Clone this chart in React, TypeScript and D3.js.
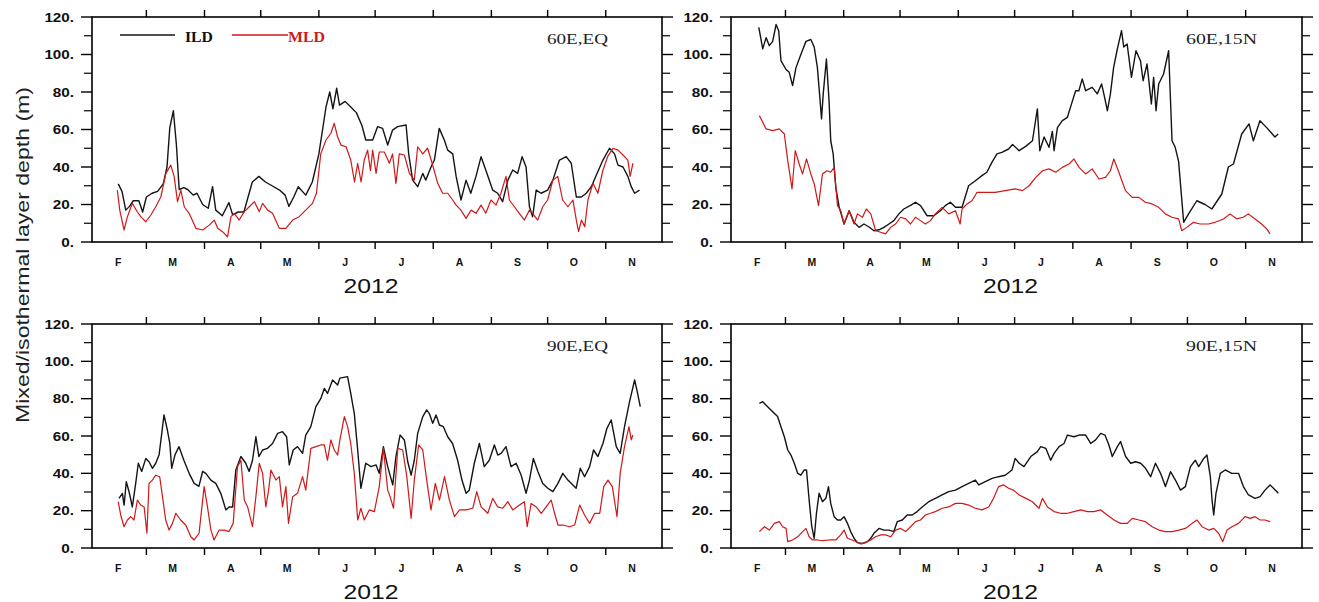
import React from "react";
import * as d3 from "d3";

// ---------- data (x = days since 1 Feb 2012, y = depth in m) ----------
const MONTH_LABELS = ["F", "M", "A", "M", "J", "J", "A", "S", "O", "N"];
const Y_TICKS = [0, 20, 40, 60, 80, 100, 120];
const Y_MINOR = [10, 30, 50, 70, 90, 110];
const YEAR_LABEL = "2012";
const Y_TITLE = "Mixed/isothermal layer depth (m)";
const SERIES_NAMES = ["ILD", "MLD"];
const PANEL_TITLES = ["60E,EQ", "60E,15N", "90E,EQ", "90E,15N"];

const ild60EQ = [[14,31],[16,27],[18,17],[20,19],[22,22],[25,22],[27,16],[29,24],[32,26],[35,27],[38,31],[40,40],[41.5,61],[43.4,70],[45,52],[46.5,28],[49,29],[51,28],[54,25],[56,26],[59,20],[62,18],[64.3,29.5],[66,17],[69.5,14],[73,21],[75,14.5],[78,16],[81,16],[85.5,32],[89,35],[92.5,32],[96,30],[100,27.7],[103,25],[105,19],[107.6,24],[110,29.5],[114,25],[117.5,32],[121,47],[124.8,72],[126.8,80],[128.5,71],[130.5,82],[132,73],[135,75],[138,72],[141,69],[144,62],[146,54.4],[149.7,54.4],[152.3,61.5],[155,60.6],[157.7,51.7],[160.3,59.7],[163,61.5],[167.5,62.4],[168.9,47],[171,33],[173.7,29.5],[176.4,36.6],[178,33],[180.8,40],[182.6,43.7],[185.2,60.6],[187.9,54.4],[189.7,49],[192.4,47],[194.2,35],[196.8,22.4],[199.5,33],[202,26],[204.8,35],[207.5,45.5],[210,38.4],[213.7,27.7],[216.4,26],[219,21.5],[221.8,33],[224.4,38.4],[227,36.6],[229.4,45.5],[231.5,40],[233.3,18.8],[235,13.5],[236.9,27.7],[239.5,26],[243,27.7],[245.8,33],[249.3,43.7],[252.9,45.5],[255.6,42],[258.3,24],[261,24],[263.6,26],[266.3,29.5],[269,35.7],[272.5,43.7],[276,50],[278.7,47],[280.5,41],[283.2,40],[285.8,35],[287.6,29.5],[289.4,26],[292,27.7]];
const mld60EQ = [[13.5,27.7],[14.8,17],[17.1,6.4],[18.9,13.5],[21.5,20.6],[24.2,16],[26,13.5],[28.7,10.8],[31.4,14.4],[34,18.8],[36.7,24],[39.4,36.6],[42,41],[43.8,35],[45.6,21.5],[47.4,27.7],[49.2,18.8],[51.8,15.3],[55.4,7.3],[59,6.4],[62.5,9],[65.2,11.7],[67,7.3],[69.6,5.5],[72.3,2.8],[74.1,13.5],[75.9,15.3],[78.5,11.7],[81.2,16.2],[83.9,18.8],[86.6,21.5],[89.2,16.2],[91,20.6],[93.7,17],[96.3,15.3],[99.9,7.3],[103.4,7.3],[107,11.7],[110.5,13.5],[114,17],[117.6,20.6],[119.7,26],[122,47],[124.8,54.4],[127.4,58],[129.2,63.3],[131,56],[132.8,51.7],[135.5,50.8],[138,43.7],[140,32],[141.7,42],[143.5,32],[145.2,43.7],[147,49],[148.5,38],[149.7,49],[151.5,36.6],[153.2,48],[155.9,48],[158.6,42],[160.3,47],[162.1,31.3],[163.9,47],[166.6,46.4],[169.3,36.6],[171.9,33],[173.7,50.8],[176.4,47],[179,50],[181.4,42],[184.4,31.3],[187,26],[189.7,26],[192.4,22.4],[194.2,19.7],[196.8,17],[199.5,12.6],[202.2,17],[204.8,15.3],[207.5,19.7],[210,15.3],[212.8,22.4],[215.5,19.7],[218.1,26],[220.8,35],[222.6,22.4],[225.3,18.8],[227.9,15.3],[230.6,11.7],[233.3,17],[235,15.3],[237.7,11.7],[240.4,18.8],[243,22.4],[245.8,33],[248.4,35],[251,22.4],[253.8,18.8],[256.5,22.4],[258.3,11.7],[259.5,5.5],[261,11.7],[262.8,8.2],[264.5,22.4],[267.2,31.3],[269.8,26],[272.5,38.4],[275,45.5],[277.8,50],[280.5,49],[283.2,46.4],[285.8,43.7],[287,35],[288.5,42]];

const ild60N15 = [[14.8,114.5],[16.9,103],[18.7,109],[20.4,104.7],[22.2,107],[24,116],[25.4,112.7],[26.6,96.7],[29.3,92],[31,90.5],[32.8,83.4],[34.6,93],[37.2,100],[39.9,107],[42.5,108],[44.3,104],[46,93],[47.3,77],[48.2,65.6],[49.1,79],[50.8,97.6],[52.2,75.4],[53.1,54],[54.4,47],[55.8,29],[57.6,18.5],[60.2,9.6],[62.9,16.7],[65.5,10.5],[68.2,7.8],[70.8,9.6],[73.5,8],[76.1,6],[78.8,6.5],[81.4,7.8],[84.1,9.6],[86.7,11.4],[89.4,15],[92,17.6],[95.6,19.5],[98.2,21.2],[100.9,19.4],[104.4,14],[108,14],[111.5,16.7],[114.1,19.4],[116.8,21.2],[119.5,18.5],[123,18.5],[126.5,30],[130.1,32.7],[133.6,35.4],[136.2,37.2],[138.9,42.5],[141.6,47],[144.2,47.8],[147.8,49.6],[149.9,52],[153.4,48.7],[156.9,51],[160.5,54],[163.1,71],[164.4,48.7],[166.7,56],[169.3,50.5],[171.1,59],[172,48.7],[173.8,61],[176.4,64.7],[179.1,66.5],[181.7,75],[183.5,80.7],[185.2,80.7],[187,87],[188.8,80.7],[192.3,82.5],[195,79],[197.3,84.3],[198.5,79],[200.4,70],[202,79],[203.7,93],[205.5,102],[207.9,112.7],[209.1,104],[210.9,105.6],[213.2,87.8],[215.6,102],[218,96.7],[219.4,86],[221.5,95],[223.8,73.6],[225,87.8],[226.3,70],[227.7,84.3],[230.3,89.6],[233,102],[234.8,54],[236.5,50.5],[238.3,43],[241,10.5],[243.6,15],[248,22],[252.4,20],[256,17.6],[261.3,25.6],[264.8,40],[267.5,41.6],[271.9,57.6],[275.8,63],[278.1,54],[281.6,64.7],[285.2,61],[289.6,56],[291.3,57.6]];
const mld60N15 = [[15.1,67.4],[18.7,60.3],[22.2,59.4],[25.7,60.3],[28.4,57.6],[30.2,43.4],[32.5,28.3],[34.2,48.7],[36.3,41.6],[38.1,36.3],[40.2,44.3],[42.5,36.3],[44.3,31],[46.6,19.4],[48.7,36.3],[51,38],[53.1,37.2],[54.9,39.8],[56.7,19.4],[58.4,16.7],[60.2,9.6],[62.9,16.7],[65.5,9.6],[67.3,15],[70,13.2],[72,17.6],[74.4,15],[77,6],[79.7,5.2],[82.3,4.3],[85,7.8],[87.6,9.6],[90.3,13.2],[93,12.3],[95.6,9.6],[98.2,13.2],[100.9,11.4],[103.5,9.6],[106.2,11.4],[108.8,15],[112.4,18.5],[115.9,15],[119.5,16.7],[122,9.6],[123,17.6],[125.7,20.3],[128.3,22],[131,26.5],[135.4,26.5],[140.7,26.5],[146,27.4],[151.3,28.3],[155.2,27.4],[158.7,30],[162.3,34.5],[165.8,38],[169.3,39],[172.9,37.2],[176.4,39.8],[180,41.6],[182.6,44.3],[185.3,39.8],[188.8,36.3],[192.3,39],[195.9,33.6],[199.4,34.5],[202,38],[203.8,44.3],[206.5,37.2],[210,27.4],[213.6,23.8],[217.1,23.8],[220.6,21.2],[224.2,20.3],[227.7,18.5],[231.2,15],[234.8,13.2],[238.3,12.3],[240,6],[242.7,7.8],[246.2,10.5],[249.8,9.6],[254.2,9.6],[257.7,10.5],[262.2,12.3],[265.7,15],[269.3,12.3],[272.8,13.2],[275.4,15],[279,12.3],[282.5,9.6],[285.2,7],[287,4.3]];

const ild90EQ = [[14.4,26.6],[16.2,29.3],[17.1,23],[18.3,35.5],[19.8,30],[21.5,22],[23.3,34.6],[24.7,45.4],[26.5,41],[28.7,48],[30.4,46.2],[32.2,42.7],[34,45.4],[35.8,50],[37.2,61.4],[38.4,71.3],[40.2,63.2],[41.5,56],[42.5,42.7],[44.3,50],[46.4,54.3],[49,47],[51.8,40],[54.5,34.6],[57,33],[59,41],[60.7,40],[63.4,36.4],[66,34.6],[68.7,29.3],[71.4,20.4],[73.1,22],[75,22],[76.7,41.8],[79.4,49],[82,45.4],[83.8,41],[85.6,47],[87.4,59.6],[89,49],[91,52.5],[93.6,53.4],[96.3,56],[99,61.4],[101.6,62.3],[103.8,59.6],[105.2,44.5],[107.3,52.5],[109.6,54.3],[112.3,50.7],[114,60.5],[116.7,65],[119.4,75.7],[122,80],[123.9,85.5],[125.6,82.8],[128.3,90],[131,87.3],[132.2,91],[136.3,91.8],[138,82.8],[139.9,72],[141.7,52.5],[143.4,32],[146,45.4],[148.8,43.6],[151.5,44.5],[153.2,40],[155.4,54.3],[157.7,43.6],[160.4,33.8],[162.1,49],[164.3,60.5],[166.6,57.9],[168.4,46.2],[170.2,39],[171.9,47],[173.7,61.4],[176.4,70.4],[178.5,74],[179.9,72],[181.7,66.8],[183.5,71.3],[185.3,65.9],[187.4,65],[189.7,59.6],[192.3,56],[195,47],[197.3,36.4],[199.5,29.3],[201.2,31],[203.9,45.4],[206.6,56],[209.2,43.6],[211.9,47],[214.6,55.2],[216.4,49.8],[218.2,50.7],[220.8,54.3],[223.5,43.6],[226.2,45.4],[228.9,39],[231.5,29.3],[233.3,36.4],[235.4,48],[237.8,41],[240.4,34.6],[243.1,32],[245.8,30.2],[248.5,34.6],[251.1,40],[253.8,36.4],[256.5,33.8],[258.2,32],[260.4,42.7],[262.7,38.2],[265.4,43.6],[267.5,52.5],[269.8,49],[272.5,56],[274.6,64],[276.9,68.6],[279.6,54.3],[281.7,50.7],[284,65],[286.7,78.4],[289.4,90],[290.8,83.8],[292.4,75.7]];
const mld90EQ = [[14,24.8],[15.3,17.7],[17.1,11.4],[18.9,15],[20.6,16.8],[22.4,15],[24.2,25.7],[26,23],[27.8,22],[29.3,8],[30.4,34.6],[32.2,36.4],[34,39],[36.1,38.2],[37.6,27.5],[39.3,15],[41.1,9.6],[42.9,13.2],[44.7,18.6],[47.3,15],[50,12.3],[52.7,6],[54.5,4.3],[57.1,7.9],[59.8,32.9],[61.6,22],[63.4,9.6],[65.1,4.3],[67.8,9.6],[70.5,9.6],[73.1,8.8],[75.3,13.2],[77.6,43.6],[79.4,47],[81.2,25.7],[83,22],[85.6,11.4],[87.4,27.5],[89.2,45.4],[91,40],[92.7,22],[94.2,31],[95.4,41.8],[98.1,36.4],[99.9,38.2],[101.6,22],[103.4,32.9],[104.8,13.2],[107,27.5],[109.6,29.3],[112.3,38.2],[114,31],[116.7,53.4],[119.4,54.3],[122,55.2],[123.9,55.2],[125.6,47],[127.4,57.9],[129.2,52.5],[131,49.8],[132.2,57.9],[134.6,70.4],[136.3,65],[138,56],[139.9,40],[141.7,15],[143.4,21.3],[145.2,15],[147.9,20.4],[150.6,19.5],[153.2,32.9],[155.4,53.4],[157.7,31],[159,27.5],[160.8,21.3],[163.1,53.4],[165.7,52.5],[167.9,38.2],[170.2,15.9],[171.9,36.4],[174.2,55.2],[176.4,52.5],[178.5,36.4],[180.8,20.4],[183.1,34.6],[185.3,25.7],[188,38.2],[190.6,25.7],[193.3,16.8],[196,20.4],[199.5,20.4],[203.1,21.3],[205.2,30.2],[207.5,22],[211.1,18.6],[213.7,26.6],[216.4,22],[219.1,21.3],[221.8,24.8],[224.4,20.4],[228,23],[230.6,24.8],[232.1,11.4],[234.2,23.9],[236.9,22],[239.6,18.6],[242.2,22],[244.9,25.7],[246.7,18.6],[248.5,12.3],[251.1,12.3],[254.7,11.4],[257.4,12.3],[260.1,23],[262.7,17.7],[265.4,13.2],[268.1,18.6],[270.8,18.6],[272.9,32.9],[275.2,36.4],[277.5,32.9],[280,16.8],[281.7,40],[284,54.3],[286.4,65],[287.6,57.9],[288.5,60.5]];

const ild90N15 = [[15.1,77.5],[16.9,78.4],[19.5,75.7],[22.2,73],[24.8,70.4],[26.6,65],[28.4,59.6],[30.2,52.5],[31.9,49.8],[33.7,45.4],[35.5,40],[37.2,39],[39,41.8],[40.2,41.8],[41.6,25.7],[43,11.4],[44.3,5.2],[45.5,18.6],[46.9,29.3],[48.7,24.8],[50.5,26.6],[51.9,32.9],[53.1,23.9],[54.9,16.8],[56.7,15],[58.4,15],[60.2,16.8],[62,13.2],[63.7,8.8],[65.5,5.2],[67.3,2.9],[70,2.5],[72.6,3.4],[74.4,5.2],[76.1,7.9],[78.8,10.5],[81.4,9.6],[84.1,9.6],[86.7,8.8],[88.5,14.1],[91.2,15],[93.8,17.7],[96.5,17.7],[99.1,19.5],[101.8,22],[105.3,24.8],[108.8,26.6],[112.4,28.4],[115.9,30.2],[119.5,31],[123,32.9],[126.5,34.6],[130.1,36.4],[131.9,33.8],[135.4,35.5],[139,37.3],[142.5,38.2],[146,39],[149.6,41.8],[151.3,48],[153.4,45.4],[156,43.6],[159.6,49],[163.1,51.6],[164.9,54.3],[167.6,53.4],[170.2,47],[172,50.7],[174.7,54.3],[177.3,56],[179.1,60.5],[182.6,59.6],[185.3,60.5],[188.8,60.5],[191.5,56],[194.1,57.9],[196.8,61.4],[199.1,60.5],[201.2,55.2],[203,49],[205.7,54.3],[207.4,57],[210.1,49],[212.8,45.4],[215.4,46.2],[218.1,45.4],[220.7,42.7],[223.4,38.2],[226,45.4],[228.7,40],[231.3,32.9],[234,40.9],[236.6,36.4],[239.3,31],[241.9,32.9],[244.6,43.6],[247.2,47],[249,43.6],[251.7,48],[253.4,49.8],[255.2,38.2],[256.1,25.7],[257,17.7],[258.2,29.3],[260.5,40],[263.1,41.8],[266.6,40],[270.2,40],[272.8,32.9],[275.5,28.4],[279,26.6],[281.7,27.5],[284.3,31],[287,33.8],[288.8,32],[291.4,29.3]];
const mld90N15 = [[15.1,8.8],[17.8,11.4],[20.4,9.6],[23.1,13.2],[25.7,14.1],[27.5,11.4],[29.3,10.5],[30.2,3.4],[32.8,4.3],[35.5,6],[38.1,8.8],[39.9,10.5],[41.6,6],[43.4,4.3],[46,4.3],[48.7,3.9],[52.3,4.3],[55.8,4.3],[58.4,7],[60.2,9.6],[62,5.2],[65.5,3.9],[69.1,2.1],[71.7,2.9],[74.4,4.3],[77,6],[79.7,7],[82.3,7],[85,6],[87.6,9.6],[90.3,10.5],[93,8.8],[95.6,11.4],[98.2,14.1],[100.9,15],[103.5,17.7],[106.2,18.6],[108.8,19.5],[112.4,21.3],[115.9,22],[119.5,23.9],[123,23.9],[126.5,23],[130.1,21.3],[133.6,20.4],[137.2,22],[139.8,26.6],[142.5,32.9],[145.1,33.8],[147.8,32],[150.4,31],[153.4,28.4],[157,26.6],[160.5,24.8],[164,21.3],[165.8,26.6],[168.5,22],[172,19.5],[175.5,18.6],[179.1,18.6],[182.6,19.5],[186.2,20.4],[189.7,19.5],[193.2,19.5],[196.8,20.4],[200.3,17.7],[203.9,15],[207.4,13.2],[211,13.2],[213.6,15.9],[217.2,15],[220.7,14.1],[224.2,11.4],[227.8,9.6],[231.3,8.8],[234.9,8.8],[238.4,9.6],[241.9,10.5],[245.5,13.2],[248.1,15],[250.8,11.4],[254.3,9.6],[257,10.5],[259.6,7.9],[261.8,3.4],[264.1,9.6],[266.7,11.4],[270.2,13.2],[273.7,16.8],[276.4,15.9],[279,16.8],[281.7,15],[284.3,15],[287,14.1]];

// ---------- layout / style ----------
const W = 1319;
const H = 602;
const START = new Date(Date.UTC(2012, 1, 1));
const END = new Date(Date.UTC(2012, 11, 1));
const ILD_COLOR = "#141414";
const MLD_COLOR = "#d01818";

const PANELS = [
  { title: PANEL_TITLES[0], ild: ild60EQ, mld: mld60EQ, x0: 92, x1: 662, y0: 17, y1: 242, legend: true },
  { title: PANEL_TITLES[1], ild: ild60N15, mld: mld60N15, x0: 731, x1: 1302, y0: 17, y1: 242, legend: false },
  { title: PANEL_TITLES[2], ild: ild90EQ, mld: mld90EQ, x0: 92, x1: 662, y0: 324, y1: 548, legend: false },
  { title: PANEL_TITLES[3], ild: ild90N15, mld: mld90N15, x0: 731, x1: 1302, y0: 324, y1: 548, legend: false },
];

const dayToDate = (d: number) => new Date(START.getTime() + d * 864e5);

function Panel({ p }: { p: any }) {
  const x = d3.scaleUtc().domain([START, END]).range([p.x0, p.x1]);
  const y = d3.scaleLinear().domain([0, 120]).range([p.y1, p.y0]);
  const line = d3
    .line<number[]>()
    .x((d) => x(dayToDate(d[0])))
    .y((d) => y(d[1]));
  const months = d3.utcMonth.range(START, END);
  const inner = months.slice(1);
  const tickLabelLen = (s: string) => (s.length - 1) * 8.4 + 4.4;
  return (
    <g>
      {Y_TICKS.map((v) => (
        <g key={"yt" + v}>
          <line x1={p.x0 - 11} x2={p.x0} y1={y(v)} y2={y(v)} stroke="#000" strokeWidth={1.4} />
          <line x1={p.x1} x2={p.x1 + 11} y1={y(v)} y2={y(v)} stroke="#000" strokeWidth={1.4} />
          <text
            x={p.x0 - 18}
            y={y(v) + 4.5}
            textAnchor="end"
            fontFamily="'Liberation Sans', Arial, sans-serif"
            fontWeight="bold"
            fontSize={12}
            textLength={tickLabelLen(v + ".")}
            lengthAdjust="spacingAndGlyphs"
            fill="#111"
          >
            {v + "."}
          </text>
        </g>
      ))}
      {Y_MINOR.map((v) => (
        <g key={"ym" + v}>
          <line x1={p.x0 - 8} x2={p.x0} y1={y(v)} y2={y(v)} stroke="#000" strokeWidth={1.2} />
          <line x1={p.x1} x2={p.x1 + 8} y1={y(v)} y2={y(v)} stroke="#000" strokeWidth={1.2} />
        </g>
      ))}
      {inner.map((m, i) => (
        <g key={"xt" + i}>
          <line x1={x(m)} x2={x(m)} y1={p.y0 - 7} y2={p.y0} stroke="#000" strokeWidth={1.4} />
          <line x1={x(m)} x2={x(m)} y1={p.y1} y2={p.y1 + 7} stroke="#000" strokeWidth={1.4} />
        </g>
      ))}
      {months.map((m, i) => (
        <text
          key={"ml" + i}
          x={x(d3.utcDay.offset(m, 14))}
          y={p.y1 + 24}
          textAnchor="middle"
          fontFamily="'Liberation Sans', Arial, sans-serif"
          fontWeight="bold"
          fontSize={10.5}
          fill="#111"
        >
          {MONTH_LABELS[i]}
        </text>
      ))}
      <text
        x={(p.x0 + p.x1) / 2 - 6}
        y={p.y1 + 51}
        textAnchor="middle"
        fontFamily="'Liberation Sans', Arial, sans-serif"
        fontSize={21}
        textLength={55}
        lengthAdjust="spacingAndGlyphs"
        fill="#111"
      >
        {YEAR_LABEL}
      </text>
      <path d={line(p.ild) || ""} fill="none" stroke={ILD_COLOR} strokeWidth={1.4} strokeLinejoin="round" />
      <path d={line(p.mld) || ""} fill="none" stroke={MLD_COLOR} strokeWidth={1.2} strokeLinejoin="round" />
      <rect x={p.x0} y={p.y0} width={p.x1 - p.x0} height={p.y1 - p.y0} fill="none" stroke="#000" strokeWidth={1.6} />
      <text
        x={p.x0 + 455}
        y={p.y0 + 26.5}
        fontFamily="'Liberation Serif', 'Times New Roman', serif"
        fontSize={15}
        textLength={p.title.length === 6 ? 61 : 71}
        lengthAdjust="spacingAndGlyphs"
        fill="#222"
      >
        {p.title}
      </text>
      {p.legend && (
        <g>
          <line x1={p.x0 + 28} x2={p.x0 + 83} y1={p.y0 + 18} y2={p.y0 + 18} stroke={ILD_COLOR} strokeWidth={1.5} />
          <text
            x={p.x0 + 93}
            y={p.y0 + 24.5}
            fontFamily="'Liberation Serif', 'Times New Roman', serif"
            fontWeight="bold"
            fontSize={15}
            textLength={28}
            lengthAdjust="spacingAndGlyphs"
            fill="#111"
          >
            {SERIES_NAMES[0]}
          </text>
          <line x1={p.x0 + 140} x2={p.x0 + 196} y1={p.y0 + 18} y2={p.y0 + 18} stroke={MLD_COLOR} strokeWidth={1.5} />
          <text
            x={p.x0 + 196}
            y={p.y0 + 24.5}
            fontFamily="'Liberation Serif', 'Times New Roman', serif"
            fontWeight="bold"
            fontSize={15}
            textLength={37}
            lengthAdjust="spacingAndGlyphs"
            fill={MLD_COLOR}
          >
            {SERIES_NAMES[1]}
          </text>
        </g>
      )}
    </g>
  );
}

export default function App() {
  return (
    <svg
      width={W}
      height={H}
      viewBox={`0 0 ${W} ${H}`}
      style={{ position: "absolute", left: 0, top: 0, background: "#fff", display: "block" }}
    >
      <rect x={0} y={0} width={W} height={H} fill="#fff" />
      {PANELS.map((p, i) => (
        <Panel key={i} p={p} />
      ))}
      <text
        transform={`translate(29,255) rotate(-90)`}
        textAnchor="middle"
        fontFamily="'Liberation Sans', Arial, sans-serif"
        fontSize={18}
        textLength={336}
        lengthAdjust="spacingAndGlyphs"
        fill="#222"
      >
        {Y_TITLE}
      </text>
    </svg>
  );
}
